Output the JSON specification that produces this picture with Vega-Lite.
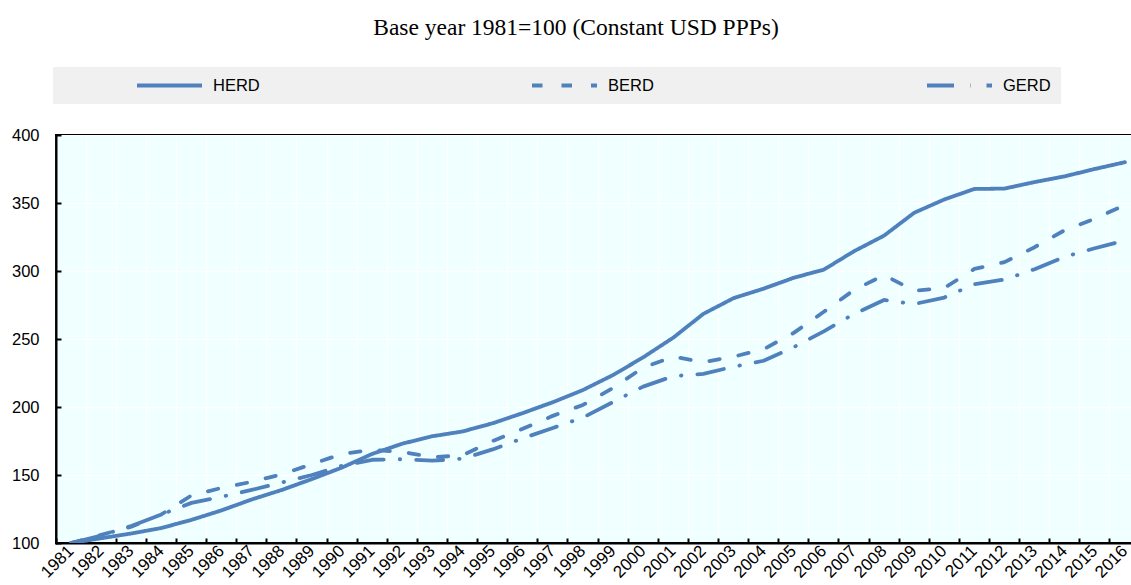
{
  "$schema": "https://vega.github.io/schema/vega-lite/v6.json",
  "autosize": {"type": "none"},
  "padding": {"left": 56, "top": 135, "right": -9, "bottom": 42},
  "width": 1084,
  "height": 408,
  "title": {
    "text": "Base year 1981=100 (Constant USD PPPs)",
    "font": "Liberation Serif",
    "fontSize": 23.5,
    "fontWeight": "normal",
    "color": "#000000",
    "anchor": "middle",
    "dx": -22,
    "baseline": "alphabetic",
    "offset": 9
  },
  "data": {
    "values": [
      {"year": "1981", "series": "HERD", "value": 100},
      {"year": "1982", "series": "HERD", "value": 103.5},
      {"year": "1983", "series": "HERD", "value": 107},
      {"year": "1984", "series": "HERD", "value": 111},
      {"year": "1985", "series": "HERD", "value": 117},
      {"year": "1986", "series": "HERD", "value": 124},
      {"year": "1987", "series": "HERD", "value": 132},
      {"year": "1988", "series": "HERD", "value": 139},
      {"year": "1989", "series": "HERD", "value": 147},
      {"year": "1990", "series": "HERD", "value": 155.5},
      {"year": "1991", "series": "HERD", "value": 165.5},
      {"year": "1992", "series": "HERD", "value": 173},
      {"year": "1993", "series": "HERD", "value": 178.5},
      {"year": "1994", "series": "HERD", "value": 182},
      {"year": "1995", "series": "HERD", "value": 188},
      {"year": "1996", "series": "HERD", "value": 195.5},
      {"year": "1997", "series": "HERD", "value": 203.5},
      {"year": "1998", "series": "HERD", "value": 212.5},
      {"year": "1999", "series": "HERD", "value": 223.5},
      {"year": "2000", "series": "HERD", "value": 236.5},
      {"year": "2001", "series": "HERD", "value": 251},
      {"year": "2002", "series": "HERD", "value": 268.5},
      {"year": "2003", "series": "HERD", "value": 280},
      {"year": "2004", "series": "HERD", "value": 287},
      {"year": "2005", "series": "HERD", "value": 295},
      {"year": "2006", "series": "HERD", "value": 301},
      {"year": "2007", "series": "HERD", "value": 314.5},
      {"year": "2008", "series": "HERD", "value": 326},
      {"year": "2009", "series": "HERD", "value": 342.8},
      {"year": "2010", "series": "HERD", "value": 352.6},
      {"year": "2011", "series": "HERD", "value": 360.3},
      {"year": "2012", "series": "HERD", "value": 360.6},
      {"year": "2013", "series": "HERD", "value": 365.4},
      {"year": "2014", "series": "HERD", "value": 369.6},
      {"year": "2015", "series": "HERD", "value": 375},
      {"year": "2016", "series": "HERD", "value": 380},
      {"year": "1981", "series": "BERD", "value": 100},
      {"year": "1982", "series": "BERD", "value": 106},
      {"year": "1983", "series": "BERD", "value": 112},
      {"year": "1984", "series": "BERD", "value": 121},
      {"year": "1985", "series": "BERD", "value": 135},
      {"year": "1986", "series": "BERD", "value": 140.5},
      {"year": "1987", "series": "BERD", "value": 145},
      {"year": "1988", "series": "BERD", "value": 150.5},
      {"year": "1989", "series": "BERD", "value": 158},
      {"year": "1990", "series": "BERD", "value": 165.5},
      {"year": "1991", "series": "BERD", "value": 168.5},
      {"year": "1992", "series": "BERD", "value": 167},
      {"year": "1993", "series": "BERD", "value": 163},
      {"year": "1994", "series": "BERD", "value": 164.5},
      {"year": "1995", "series": "BERD", "value": 175},
      {"year": "1996", "series": "BERD", "value": 184},
      {"year": "1997", "series": "BERD", "value": 193.5},
      {"year": "1998", "series": "BERD", "value": 201.5},
      {"year": "1999", "series": "BERD", "value": 214},
      {"year": "2000", "series": "BERD", "value": 229},
      {"year": "2001", "series": "BERD", "value": 237},
      {"year": "2002", "series": "BERD", "value": 233},
      {"year": "2003", "series": "BERD", "value": 237},
      {"year": "2004", "series": "BERD", "value": 242.5},
      {"year": "2005", "series": "BERD", "value": 254.5},
      {"year": "2006", "series": "BERD", "value": 270},
      {"year": "2007", "series": "BERD", "value": 286},
      {"year": "2008", "series": "BERD", "value": 297},
      {"year": "2009", "series": "BERD", "value": 285.5},
      {"year": "2010", "series": "BERD", "value": 287.5},
      {"year": "2011", "series": "BERD", "value": 301.5},
      {"year": "2012", "series": "BERD", "value": 306.5},
      {"year": "2013", "series": "BERD", "value": 317.5},
      {"year": "2014", "series": "BERD", "value": 330},
      {"year": "2015", "series": "BERD", "value": 338.5},
      {"year": "2016", "series": "BERD", "value": 348.5},
      {"year": "1981", "series": "GERD", "value": 100},
      {"year": "1982", "series": "GERD", "value": 105.5},
      {"year": "1983", "series": "GERD", "value": 112.5},
      {"year": "1984", "series": "GERD", "value": 121},
      {"year": "1985", "series": "GERD", "value": 129.5},
      {"year": "1986", "series": "GERD", "value": 134},
      {"year": "1987", "series": "GERD", "value": 139},
      {"year": "1988", "series": "GERD", "value": 144.5},
      {"year": "1989", "series": "GERD", "value": 150},
      {"year": "1990", "series": "GERD", "value": 156.8},
      {"year": "1991", "series": "GERD", "value": 161.2},
      {"year": "1992", "series": "GERD", "value": 161.6},
      {"year": "1993", "series": "GERD", "value": 160.5},
      {"year": "1994", "series": "GERD", "value": 162},
      {"year": "1995", "series": "GERD", "value": 168.8},
      {"year": "1996", "series": "GERD", "value": 177},
      {"year": "1997", "series": "GERD", "value": 184.6},
      {"year": "1998", "series": "GERD", "value": 192.2},
      {"year": "1999", "series": "GERD", "value": 203.7},
      {"year": "2000", "series": "GERD", "value": 215},
      {"year": "2001", "series": "GERD", "value": 222.7},
      {"year": "2002", "series": "GERD", "value": 224.4},
      {"year": "2003", "series": "GERD", "value": 229.6},
      {"year": "2004", "series": "GERD", "value": 234},
      {"year": "2005", "series": "GERD", "value": 244},
      {"year": "2006", "series": "GERD", "value": 255.6},
      {"year": "2007", "series": "GERD", "value": 268.4},
      {"year": "2008", "series": "GERD", "value": 278.7},
      {"year": "2009", "series": "GERD", "value": 275.7},
      {"year": "2010", "series": "GERD", "value": 280.5},
      {"year": "2011", "series": "GERD", "value": 290.3},
      {"year": "2012", "series": "GERD", "value": 293.7},
      {"year": "2013", "series": "GERD", "value": 301.3},
      {"year": "2014", "series": "GERD", "value": 310.5},
      {"year": "2015", "series": "GERD", "value": 316.7},
      {"year": "2016", "series": "GERD", "value": 322.5}
    ]
  },
  "mark": {
    "type": "line",
    "color": "#4F81BD",
    "strokeWidth": 3.8,
    "strokeCap": "round",
    "strokeJoin": "round",
    "clip": true
  },
  "encoding": {
    "x": {
      "field": "year",
      "type": "ordinal",
      "scale": {"type": "band", "paddingInner": 0, "paddingOuter": 0},
      "axis": {
        "title": null,
        "bandPosition": 0,
        "labelAngle": -45,
        "labelAlign": "right",
        "labelBaseline": "middle",
        "labelPadding": 10,
        "labelFontSize": 17,
        "tickSize": -5,
        "tickColor": "#000000",
        "tickWidth": 2,
        "domainColor": "#000000",
        "domainWidth": 2,
        "grid": true,
        "gridColor": "#FFFFFF",
        "gridWidth": 1.2
      }
    },
    "y": {
      "field": "value",
      "type": "quantitative",
      "scale": {"domain": [100, 400], "nice": false, "zero": false},
      "axis": {
        "title": null,
        "values": [100, 150, 200, 250, 300, 350, 400],
        "tickSize": -5,
        "tickColor": "#000000",
        "tickWidth": 2,
        "domainColor": "#000000",
        "domainWidth": 2,
        "labelPadding": 22,
        "grid": true,
        "gridColor": "#FFFFFF",
        "gridWidth": 1.2
      }
    },
    "strokeDash": {
      "field": "series",
      "type": "nominal",
      "sort": ["HERD", "BERD", "GERD"],
      "scale": {
        "domain": ["HERD", "BERD", "GERD"],
        "range": [[1, 0], [10.5, 19], [27, 16, 0.5, 16]]
      },
      "legend": {
        "orient": "none",
        "legendX": -3,
        "legendY": -68,
        "direction": "horizontal",
        "columns": 3,
        "gridAlign": "all",
        "title": null,
        "fillColor": "#F0F0F0",
        "padding": 10,
        "clipHeight": 17,
        "symbolType": "stroke",
        "symbolSize": 4225,
        "symbolStrokeWidth": 3.8,
        "symbolStrokeColor": "#4F81BD",
        "symbolOffset": 72,
        "labelOffset": 9,
        "columnPadding": 197,
        "labelFont": "Liberation Sans",
        "labelFontSize": 16.5,
        "labelColor": "#000000"
      }
    }
  },
  "config": {
    "view": {"fill": "#F0FFFF", "stroke": "#000000", "strokeWidth": 2},
    "axis": {
      "labelFont": "Liberation Sans",
      "labelFontSize": 16.5,
      "labelColor": "#000000",
      "domainCap": "square"
    }
  }
}
